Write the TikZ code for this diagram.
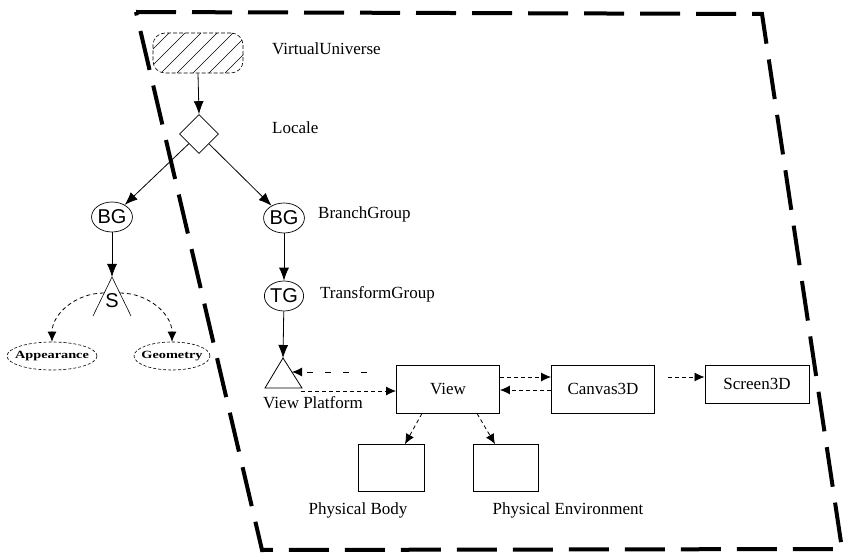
\documentclass[tikz,border=0pt]{standalone}
\usepackage{fontspec}
\setmainfont{Liberation Serif}
\newfontfamily\sansf{Liberation Sans}
\usetikzlibrary{shapes.geometric,arrows.meta}
\newcommand{\widetxt}[1]{\makebox[0pt][c]{\scalebox{1.3}[1]{#1}}}
\begin{document}
\begin{tikzpicture}[x=1pt,y=-1pt,
  lbl/.style={font=\fontsize{17}{19}\selectfont, inner sep=0pt},
  circ/.style={draw, line width=0.7pt, ellipse, minimum width=38pt, minimum height=30pt, inner sep=0pt, font=\sansf\fontsize{20}{22}\selectfont},
  sarr/.style={draw, line width=0.8pt, -{Latex[length=13pt,width=10pt]}},
  darr/.style={draw, line width=0.8pt, dash pattern=on 4pt off 3pt, -{Latex[length=10pt,width=9pt]}},
  box/.style={draw, line width=0.9pt, inner sep=0pt, font=\fontsize{17}{19}\selectfont},
  leaf/.style={draw, line width=0.6pt, dash pattern=on 3pt off 2pt, ellipse, minimum height=28pt, inner sep=0pt, font=\bfseries\fontsize{11}{13}\selectfont}
  ]
\useasboundingbox (0,0) rectangle (843,553);
% dashed frame
\draw[line width=4pt, dash pattern=on 40pt off 16pt] (136,12) -- (762,14) -- (842,549) -- (262,550) -- cycle;
% virtual universe
\node[draw, dash pattern=on 4pt off 2pt, rounded corners=12pt, minimum width=90pt, minimum height=40pt, line width=0.6pt] (vu) at (198,53) {};
\begin{scope}
  \clip[rounded corners=12pt] (153,33) rectangle (243,73);
  \foreach \i in {0,...,9} \draw[line width=0.6pt] (113+\i*16,73) -- ++(40,-40);
\end{scope}
\node[draw, diamond, aspect=1, minimum width=39pt, minimum height=39pt, inner sep=0pt, line width=0.6pt] (loc) at (199,134) {};
% labels
\node[lbl, anchor=west] (vulab) at (272,49) {VirtualUniverse};
\node[lbl, anchor=west] (loclab) at (272,128) {Locale};
\node[lbl, anchor=west] (bglab) at (318,214) {BranchGroup};
\node[lbl, anchor=west] (tglab) at (320,294) {TransformGroup};
\node[lbl] (vplab) at (313,403) {View Platform};
\node[lbl] (pblab) at (358,510) {Physical Body};
\node[lbl] (pelab) at (568,510) {Physical Environment};
% groups
\node[circ] (bgl) at (112,217) {BG};
\node[circ] (bgr) at (284,218) {BG};
\node[circ] (tg) at (284,296) {TG};
% shape3d
\coordinate (sapex) at (112,277);
\node[font=\sansf\fontsize{20}{22}\selectfont, inner sep=0pt] (s) at (112,301) {S};
\draw[line width=0.6pt] (93,316) -- (sapex) -- (131,316);
\node[leaf, minimum width=90pt] (app) at (52,356) {\widetxt{Appearance}};
\node[leaf, minimum width=76pt] (geo) at (172,356) {\widetxt{Geometry}};
\draw[darr] ([shift={(-8,-8)}]s.center) to[out=180,in=90] (app.north);
\draw[darr] ([shift={(8,-8)}]s.center) to[out=0,in=90] (geo.north);
% solid arrows
\draw[sarr] (vu.south) -- (loc.north);
\draw[sarr] (loc) -- (bgl);
\draw[sarr] (loc) -- (bgr);
\draw[sarr] (bgl) -- (sapex);
\draw[sarr] (bgr) -- (tg);
\coordinate (vpapex) at (283,358);
\draw[sarr] (tg) -- (vpapex);
% view platform
\draw[line width=0.8pt] (vpapex) -- (302,388) -- (265,388) -- cycle;
\coordinate (vpr) at (292,372);
\coordinate (vpb) at (301,391);
% boxes
\node[box, minimum width=103pt, minimum height=48pt] (view) at (448,389) {View};
\node[box, minimum width=103pt, minimum height=48pt] (canvas) at (603,389) {Canvas3D};
\node[box, minimum width=104pt, minimum height=38pt] (screen) at (757,384) {Screen3D};
\node[box, minimum width=66pt, minimum height=47pt] (pb) at (391,468) {};
\node[box, minimum width=65pt, minimum height=47pt] (pe) at (506,468) {};
% dashed arrows
\draw[darr, dash pattern=on 6pt off 12pt] ([xshift=-29pt,yshift=17pt]view.west) -- (vpr);
\draw[darr] (vpb) -- ([yshift=-2pt]view.west);
\draw[darr] ([yshift=12pt]view.east) -- ([yshift=12pt]canvas.west);
\draw[darr] ([yshift=-1pt]canvas.west) -- ([yshift=-1pt]view.east);
\draw[darr] ([xshift=13pt,yshift=12pt]canvas.east) -- ([yshift=7pt]screen.west);
\draw[darr] ([xshift=-26pt]view.south) -- ([xshift=14pt]pb.north);
\draw[darr] ([xshift=29pt]view.south) -- ([xshift=-11pt]pe.north);
\end{tikzpicture}
\end{document}
